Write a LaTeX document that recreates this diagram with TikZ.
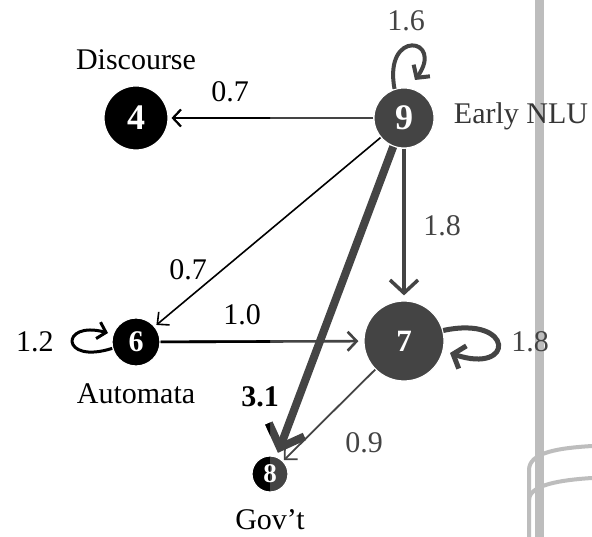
\documentclass[tikz,border=0pt]{standalone}
\usepackage{fontspec}
\setmainfont{Liberation Serif}
\usetikzlibrary{arrows.meta}
\definecolor{dg}{HTML}{444444}
\definecolor{pole}{HTML}{BDBDBD}
\begin{document}
\begin{tikzpicture}[x=1pt,y=-1pt,
  nd/.style={circle, inner sep=0pt, draw=white, line width=1.2pt, text=white, font=\bfseries\fontsize{#1}{#1}\selectfont},
  lbl/.style={font=\fontsize{30}{30}\selectfont, inner sep=0pt},
  eA/.style={line width=2pt, -{Straight Barb[length=8pt,width=17pt]}, shorten >=3pt},
  eB/.style={line width=1.6pt, -{Straight Barb[length=9pt,width=17pt]}, shorten >=2pt},
  eC/.style={line width=2.6pt, -{Straight Barb[length=9pt,width=19pt]}, shorten >=5pt},
  eD/.style={line width=3.5pt, -{Straight Barb[length=13pt,width=28pt]}, shorten >=5pt},
  eE/.style={line width=8pt, -{Straight Barb[length=19pt,width=38pt]}, shorten >=4pt},
  eF/.style={line width=1.8pt, -{Straight Barb[length=9pt,width=18pt]}, shorten >=1pt},
]
\useasboundingbox (0,0) rectangle (592,537);
\fill[white] (0,0) rectangle (592,537);
% background pole
\fill[pole] (535,0) rectangle (544,537);
\draw[pole, line width=4pt] (529,537) -- (529,470) .. controls (529,452) and (560,448) .. (592,446);
\draw[pole, line width=4pt] (529,500) .. controls (529,485) and (560,480) .. (592,478);
% nodes
\node[nd=36, fill=black, minimum size=64pt] (n4) at (136,118) {4};
\node[nd=36, fill=dg, minimum size=60pt] (n9) at (404,118) {9};
\node[nd=30, fill=black, minimum size=48pt] (n6) at (136,342) {6};
\node[nd=31, fill=dg, minimum size=80pt] (n7) at (404,341) {7};
\node[nd=27, fill=dg, minimum size=36pt,
  path picture={\fill[black] (path picture bounding box.south west) rectangle (path picture bounding box.north);}] (n8) at (270,474) {8};
% free ends of loops
\coordinate (l9) at (415,80);
\coordinate (l6) at (108,333);
\coordinate (l7) at (450,353);
% edges
\draw[dg, eA] (n9) -- (n4);
\draw[black, eB] (n9) -- (n6);
\draw[dg, eC] (n6) -- (n7);
\draw[dg, eD] (n9) -- (n7);
\draw[dg, eF] (n7) -- (n8);
\draw[dg, eE] (n9) -- (n8);
\begin{scope}
  \clip (0,0) rectangle (270,537);
  \draw[black, eA] (n9) -- (n4);
  \draw[black, eC] (n6) -- (n7);
  \draw[black, eE] (n9) -- (n8);
\end{scope}
% loops
\draw[dg, line width=4pt, -{Straight Barb[length=9pt,width=20pt]}] (n9.108) .. controls (383,28) and (445,38) .. (l9);
\draw[black, line width=3pt, -{Straight Barb[length=8pt,width=17pt]}] (n6.195) .. controls (60,365) and (60,320) .. (l6);
\draw[dg, line width=5pt, -{Straight Barb[length=10pt,width=24pt]}] (n7.15) .. controls (515,315) and (515,375) .. (l7);
% weights
\node[lbl, text=dg] (w16) at (406,21) {1.6};
\node[lbl] (w07a) at (230,92) {0.7};
\node[lbl, text=dg] (w18a) at (442,226) {1.8};
\node[lbl] (w07b) at (188,270) {0.7};
\node[lbl] (w10) at (242,315) {1.0};
\node[lbl] (w12) at (35,342) {1.2};
\node[lbl, text=dg] (w18b) at (530,342) {1.8};
\node[lbl, font=\bfseries\fontsize{30}{30}\selectfont] (w31) at (260,397) {3.1};
\node[lbl, text=dg] (w09) at (364,443) {0.9};
% names
\node[lbl] (tD) at (136,60) {Discourse};
\node[lbl, text=dg!80!black] (tE) at (521,116) {Early NLU};
\node[lbl] (tA) at (136,394) {Automata};
\node[lbl] (tG) at (270,520) {Gov’t};
\end{tikzpicture}
\end{document}
